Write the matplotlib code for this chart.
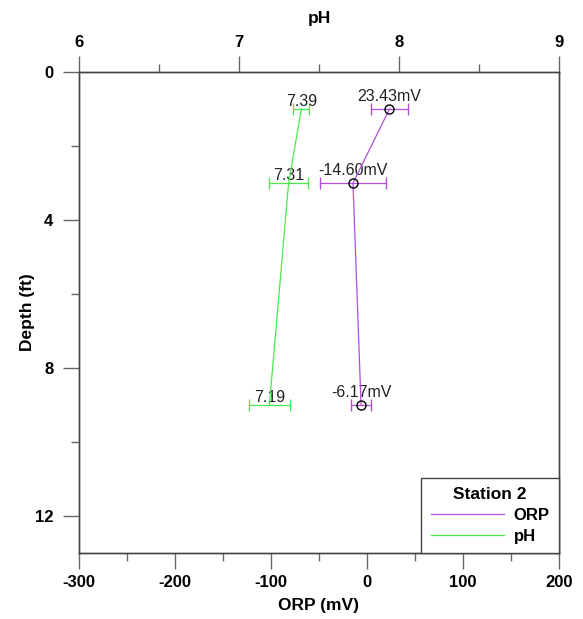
import matplotlib
matplotlib.use("Agg")
import matplotlib.pyplot as plt
from matplotlib.lines import Line2D
from matplotlib.ticker import MultipleLocator

plt.rcParams['font.family'] = ['Liberation Sans', 'DejaVu Sans']
plt.rcParams['axes.unicode_minus'] = False

depth = [1, 3, 9]
orp = [23.43, -14.60, -6.17]
orp_err = [19, 34, 10]
ph = [7.39, 7.31, 7.19]
ph_err = [0.05, 0.12, 0.13]
orp_labels = ["23.43mV", "-14.60mV", "-6.17mV"]
ph_labels = ["7.39", "7.31", "7.19"]

orp_color = '#b04ee0'
ph_color = '#48ec48'
axis_color = '#444444'

fig = plt.figure(figsize=(5.83, 6.19), dpi=100)
ax = fig.add_axes([79/583, 1-553/619, 480/583, 481/619])
ax2 = ax.twiny()

ax.errorbar(orp, depth, xerr=orp_err, color=orp_color, lw=0.9, elinewidth=0.9,
            capsize=4.5, capthick=0.9, marker='o', ms=6.5, mfc='none', mec='black',
            mew=1.0, zorder=3)
for x, y, t in zip(orp, depth, orp_labels):
    ax.annotate(t, (x, y), xytext=(0, 5), textcoords='offset pixels',
                ha='center', va='bottom', fontsize=11.5, color='#222222')

ax2.errorbar(ph, depth, xerr=ph_err, color=ph_color, lw=0.9, elinewidth=0.9,
             capsize=4.5, capthick=0.9, zorder=3)
for x, y, t in zip(ph, depth, ph_labels):
    ax2.annotate(t, (x, y), xytext=(0, 0), textcoords='offset pixels',
                 ha='center', va='bottom', fontsize=11.5, color='#222222')

ax.set_xlim(-300, 200)
ax2.set_xlim(6, 9)
ax.set_ylim(13, 0)

ax.xaxis.set_major_locator(MultipleLocator(100))
ax.xaxis.set_minor_locator(MultipleLocator(50))
ax.yaxis.set_major_locator(MultipleLocator(4))
ax.yaxis.set_minor_locator(MultipleLocator(2))
ax2.xaxis.set_major_locator(MultipleLocator(1))
ax2.xaxis.set_minor_locator(MultipleLocator(0.5))

for a in (ax, ax2):
    a.tick_params(which='major', length=11.5, width=1.0, color='#666666',
                  labelsize=12, pad=4)
    a.tick_params(which='minor', length=5.8, width=1.0, color='#666666')
    for s in a.spines.values():
        s.set_color(axis_color)
        s.set_linewidth(1.0)
    for lab in a.get_xticklabels() + a.get_yticklabels():
        lab.set_fontweight('bold')
ax.tick_params(axis='y', which='major', pad=7)

ax.set_xlabel("ORP (mV)", fontsize=12.5, fontweight='bold', labelpad=6)
ax.set_ylabel("Depth (ft)", fontsize=12.5, fontweight='bold')
ax.yaxis.set_label_coords(-44/480, 0.5)
ax2.set_xlabel("pH", fontsize=12.5, fontweight='bold', labelpad=9)

handles = [Line2D([], [], color=orp_color, lw=0.9),
           Line2D([], [], color=ph_color, lw=0.9)]
leg = ax2.legend(handles, ["ORP", "pH"], title="Station 2", loc='lower right',
                 borderaxespad=0, fancybox=False, framealpha=1, edgecolor=axis_color,
                 prop={'weight': 'bold', 'size': 12}, handlelength=4.4,
                 handletextpad=0.6, borderpad=0.55, labelspacing=0.35)
leg.get_title().set_fontweight('bold')
leg.get_title().set_fontsize(12.5)
leg.get_frame().set_linewidth(1.0)

fig.savefig("out.png", dpi=100)
